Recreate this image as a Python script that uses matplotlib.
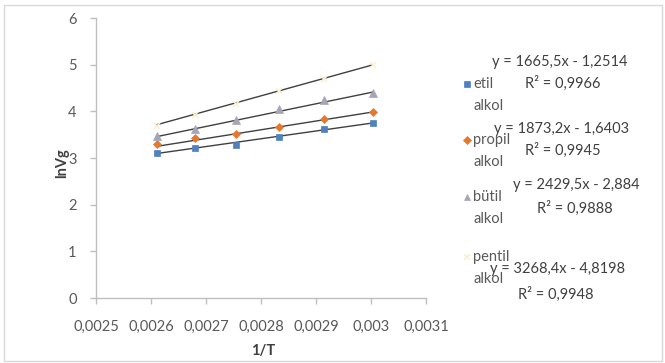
import numpy as np
import matplotlib
matplotlib.use('Agg')
import matplotlib.pyplot as plt
from matplotlib.lines import Line2D
from matplotlib.patches import Rectangle
from matplotlib.ticker import MultipleLocator, FuncFormatter

plt.rcParams['font.family'] = ['Lato', 'DejaVu Sans']

# 1/T values and lnVg for each alcohol
inv_t = [0.00261, 0.00268, 0.002755, 0.002833, 0.002915, 0.003003]
etil = [3.11, 3.21, 3.28, 3.45, 3.62, 3.75]
propil = [3.30, 3.42, 3.51, 3.66, 3.83, 3.99]
butil = [3.47, 3.62, 3.81, 4.06, 4.24, 4.40]
pentil = [3.68, 3.92, 4.15, 4.43, 4.70, 4.99]

names = ['etil\nalkol', 'propil\nalkol', 'bütil\nalkol', 'pentil\nalkol']
slopes = [1665.5, 1873.2, 2429.5, 3268.4]
intercepts = [-1.2514, -1.6403, -2.884, -4.8198]
r2 = [0.9966, 0.9945, 0.9888, 0.9948]

colors = ['#4F81BD', '#E8772E', '#A5A5B5', '#FBF0CF']
markers = ['s', 'D', '^', 'x']
msizes = [4.5, 4.5, 5.5, 5]

W, H = 665, 363
fig = plt.figure(figsize=(W / 100, H / 100), dpi=100)
ax = fig.add_axes([96 / W, 1 - 298 / H, 330 / W, 280 / H])


def px(x, y):
    return x / W, 1 - y / H


def comma(v):
    return str(v).replace('.', ',')


series = [etil, propil, butil, pentil]
xs = np.array(inv_t)
for vals, c, m, ms in zip(series, colors, markers, msizes):
    ax.plot(xs, vals, linestyle='none', marker=m, color=c, markersize=ms,
            markeredgewidth=1.2 if m == 'x' else 0.5, zorder=3)

# linear trendlines from the fitted equations
xline = np.array([xs[0], xs[-1]])
for a, b in zip(slopes, intercepts):
    ax.plot(xline, a * xline + b, color='#404040', linewidth=1.0, zorder=2)

ax.set_xlim(0.0025, 0.0031)
ax.set_ylim(0, 6)
ax.xaxis.set_major_locator(MultipleLocator(0.0001))
ax.yaxis.set_major_locator(MultipleLocator(1))
ax.xaxis.set_major_formatter(FuncFormatter(
    lambda v, p: f'{v:.4f}'.rstrip('0').replace('.', ',')))
ax.yaxis.set_major_formatter(FuncFormatter(lambda v, p: f'{v:g}'))
for s in ['top', 'right']:
    ax.spines[s].set_visible(False)
for s in ['left', 'bottom']:
    ax.spines[s].set_color('#BFBFBF')
    ax.spines[s].set_linewidth(1.0)
ax.tick_params(colors='#BFBFBF', labelcolor='#595959', labelsize=10.5,
               length=4, width=1.0)
ax.tick_params(axis='x', pad=12)
ax.tick_params(axis='y', pad=10)

fig.text(*px(62, 163), 'lnVg', rotation=90, ha='center', va='center',
         fontsize=10.5, fontweight='bold', color='#404040')
fig.text(*px(263, 351), '1/T', ha='center', va='center',
         fontsize=10.5, fontweight='bold', color='#404040')

# legend entries
leg_y = [84, 140, 197, 257]
for name, c, m, ms, y in zip(names, colors, markers, msizes, leg_y):
    fig.add_artist(Line2D([467 / W], [1 - y / H], marker=m, color=c,
                          markersize=ms - 0.5, linestyle='none',
                          markeredgewidth=1.2 if m == 'x' else 0.5))
    first, second = name.split('\n')
    fig.text(*px(473, y), first, ha='left', va='center', fontsize=10.5,
             color='#595959')
    fig.text(*px(473, y + 22), second, ha='left', va='center', fontsize=10.5,
             color='#595959')

# trendline equation labels
eq_pos = [(560, 62), (562, 129), (576, 185), (558, 269)]
r2_pos = [(563, 83), (563, 150), (575, 208), (556, 294)]
for a, b, r, ep, rp in zip(slopes, intercepts, r2, eq_pos, r2_pos):
    sign = '-' if b < 0 else '+'
    fig.text(*px(*ep), f'y = {comma(a)}x {sign} {comma(abs(b))}',
             ha='center', va='center', fontsize=10.5, color='#404040')
    fig.text(*px(*rp), f'R² = {comma(r)}', ha='center', va='center',
             fontsize=10.5, color='#404040')

fig.add_artist(Rectangle((4 / W, 1 - 361 / H), 658 / W, 356 / H,
                         transform=fig.transFigure, fill=False,
                         edgecolor='#D9D9D9', linewidth=1.0))

fig.savefig('out.png', dpi=100)
